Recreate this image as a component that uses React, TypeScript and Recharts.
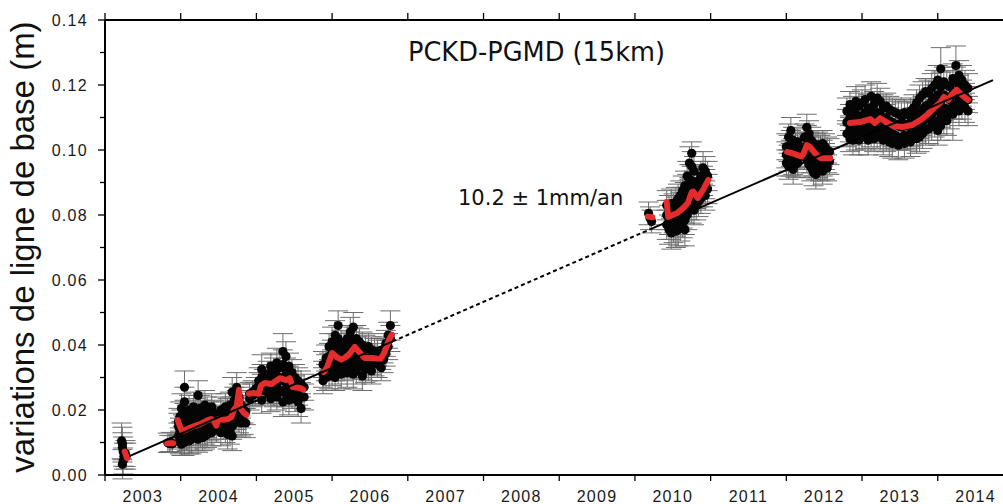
import React from 'react';
import { ComposedChart, Scatter, Line, XAxis, YAxis, ErrorBar } from 'recharts';

type Obs = [number, number, number];
type Mean = [number, number];

// ---- observations: [year, baseline variation (m), 1-sigma error (m)] ----
const obs2003a: Obs[] = [
  [2003.22, .0105, .0055], [2003.23, .0097, .005], [2003.23, .0085, .0045], [2003.24, .0072, .0045],
  [2003.25, .0058, .004], [2003.24, .0043, .004], [2003.23, .0033, .0045], [2003.27, .0066, .004], [2003.28, .0058, .004],
];
const obs2003b: Obs[] = [
  [2003.83, .0099, .003], [2003.85, .0097, .0025], [2003.87, .0101, .003], [2003.89, .0096, .0025],
];
const obs2004a: Obs[] = [
  [2003.97, .0165, .004], [2003.97, .0150, .004], [2003.97, .0120, .004],
  [2003.99, .0180, .0045], [2003.99, .0135, .004], [2003.99, .0105, .004],
  [2004.01, .0205, .0045], [2004.01, .0160, .004], [2004.01, .0125, .004], [2004.01, .0095, .0035],
  [2004.03, .0145, .004], [2004.03, .0110, .004],
  [2004.05, .0270, .005], [2004.05, .0225, .0045], [2004.05, .0190, .004], [2004.05, .0130, .004], [2004.05, .0100, .004],
  [2004.08, .0175, .004], [2004.08, .0150, .004], [2004.08, .0115, .004],
  [2004.11, .0200, .0045], [2004.11, .0160, .004], [2004.11, .0120, .004], [2004.11, .0105, .004],
  [2004.14, .0185, .004], [2004.14, .0140, .004], [2004.14, .0110, .0045],
  [2004.17, .0210, .0045], [2004.17, .0170, .004], [2004.17, .0130, .004],
  [2004.20, .0195, .004], [2004.20, .0150, .004], [2004.20, .0115, .004],
  [2004.23, .0245, .0045], [2004.23, .0180, .004], [2004.23, .0135, .004], [2004.23, .0110, .004],
  [2004.26, .0205, .004], [2004.26, .0160, .004], [2004.26, .0125, .004],
  [2004.29, .0190, .004], [2004.29, .0150, .004], [2004.29, .0115, .004],
  [2004.32, .0215, .0045], [2004.32, .0170, .004], [2004.32, .0135, .004], [2004.32, .0120, .004],
  [2004.35, .0200, .004], [2004.35, .0155, .004], [2004.35, .0125, .004],
  [2004.38, .0185, .004], [2004.38, .0145, .004],
  [2004.41, .0210, .004], [2004.41, .0165, .004], [2004.41, .0130, .004],
  [2004.44, .0190, .004], [2004.44, .0150, .004],
  [2004.47, .0175, .004], [2004.47, .0140, .004],
];
const obs2004b: Obs[] = [
  [2004.53, .0200, .004], [2004.53, .0165, .004], [2004.53, .0130, .004],
  [2004.56, .0185, .004], [2004.56, .0150, .004],
  [2004.59, .0210, .004], [2004.59, .0170, .004], [2004.59, .0140, .004],
  [2004.62, .0195, .004], [2004.62, .0160, .004], [2004.62, .0125, .0045],
  [2004.65, .0215, .004], [2004.65, .0175, .004], [2004.65, .0135, .004],
  [2004.68, .0255, .0045], [2004.68, .0200, .004], [2004.68, .0150, .004], [2004.68, .0120, .0045],
  [2004.71, .0230, .004], [2004.71, .0190, .004], [2004.71, .0160, .004],
  [2004.74, .0270, .0045], [2004.74, .0220, .004], [2004.74, .0180, .004],
  [2004.77, .0240, .004], [2004.77, .0205, .004], [2004.77, .0170, .004],
  [2004.80, .0215, .004], [2004.80, .0185, .004], [2004.80, .0160, .004],
  [2004.83, .0200, .004], [2004.83, .0165, .004],
  [2004.86, .0195, .004], [2004.86, .0160, .0045],
];
const obs2005a: Obs[] = [
  [2004.91, .0250, .0035], [2004.91, .0235, .0035],
  [2004.95, .0255, .0035], [2004.95, .0245, .0035],
  [2004.99, .0250, .0035], [2004.99, .0265, .0035],
  [2005.03, .0275, .004], [2005.03, .0290, .004],
  [2005.07, .0325, .0045], [2005.07, .0300, .004], [2005.07, .0270, .004], [2005.07, .0230, .004],
  [2005.10, .0285, .004], [2005.10, .0260, .004],
];
const obs2005b: Obs[] = [
  [2005.15, .0310, .004], [2005.15, .0280, .004], [2005.15, .0255, .004],
  [2005.19, .0335, .004], [2005.19, .0295, .004], [2005.19, .0265, .004], [2005.19, .0235, .004],
  [2005.23, .0320, .004], [2005.23, .0285, .004], [2005.23, .0250, .004],
  [2005.27, .0345, .0045], [2005.27, .0305, .004], [2005.27, .0270, .004], [2005.27, .0240, .004],
  [2005.31, .0330, .004], [2005.31, .0290, .004], [2005.31, .0255, .004],
  [2005.35, .0380, .0055], [2005.35, .0340, .0045], [2005.35, .0300, .004], [2005.35, .0260, .004], [2005.35, .0225, .0045],
  [2005.39, .0365, .0045], [2005.39, .0320, .004], [2005.39, .0285, .004], [2005.39, .0250, .004],
  [2005.43, .0335, .004], [2005.43, .0295, .004], [2005.43, .0260, .004], [2005.43, .0230, .0045],
  [2005.47, .0315, .004], [2005.47, .0280, .004], [2005.47, .0245, .004],
  [2005.51, .0300, .004], [2005.51, .0265, .004], [2005.51, .0235, .004],
  [2005.55, .0290, .004], [2005.55, .0255, .004], [2005.55, .0225, .0045],
  [2005.59, .0280, .004], [2005.59, .0245, .004], [2005.59, .0205, .0045],
  [2005.63, .0270, .004], [2005.63, .0240, .004],
];
const obs2006a: Obs[] = [
  [2005.88, .0340, .004], [2005.88, .0310, .004], [2005.88, .0290, .004],
  [2005.92, .0360, .004], [2005.92, .0330, .004], [2005.92, .0300, .004],
  [2005.96, .0395, .004], [2005.96, .0365, .004], [2005.96, .0335, .004], [2005.96, .0305, .004],
  [2006.00, .0410, .0045], [2006.00, .0375, .004], [2006.00, .0345, .004], [2006.00, .0315, .004],
  [2006.04, .0430, .0045], [2006.04, .0395, .004], [2006.04, .0360, .004], [2006.04, .0330, .004], [2006.04, .0300, .004],
  [2006.08, .0460, .0045], [2006.08, .0420, .004], [2006.08, .0380, .004], [2006.08, .0350, .004], [2006.08, .0320, .004],
  [2006.12, .0405, .004], [2006.12, .0370, .004], [2006.12, .0340, .004], [2006.12, .0310, .0045],
  [2006.16, .0395, .004], [2006.16, .0360, .004], [2006.16, .0330, .004],
  [2006.20, .0420, .004], [2006.20, .0380, .004], [2006.20, .0345, .004], [2006.20, .0315, .0045],
  [2006.24, .0440, .0045], [2006.24, .0400, .004], [2006.24, .0365, .004], [2006.24, .0335, .004],
  [2006.28, .0455, .0045], [2006.28, .0415, .004], [2006.28, .0375, .004], [2006.28, .0340, .004], [2006.28, .0310, .0045],
  [2006.32, .0420, .004], [2006.32, .0385, .004], [2006.32, .0350, .004], [2006.32, .0320, .004],
  [2006.36, .0410, .004], [2006.36, .0370, .004], [2006.36, .0340, .004],
  [2006.40, .0400, .004], [2006.40, .0365, .004], [2006.40, .0335, .004], [2006.40, .0305, .0045],
  [2006.44, .0390, .004], [2006.44, .0355, .004], [2006.44, .0325, .004],
  [2006.48, .0395, .004], [2006.48, .0360, .004], [2006.48, .0330, .004],
  [2006.52, .0385, .004], [2006.52, .0350, .004], [2006.52, .0320, .004],
  [2006.56, .0380, .004], [2006.56, .0345, .004],
  [2006.60, .0375, .004], [2006.60, .0340, .004],
];
const obs2006b: Obs[] = [
  [2006.65, .0365, .004], [2006.65, .0330, .004],
  [2006.68, .0385, .004], [2006.68, .0355, .004],
  [2006.71, .0405, .004], [2006.71, .0375, .004],
  [2006.74, .0430, .004], [2006.74, .0395, .004],
  [2006.77, .0460, .0045], [2006.77, .0420, .004],
];
const obs2010a: Obs[] = [
  [2010.18, .0805, .0035], [2010.20, .0790, .0035], [2010.22, .0780, .0035],
];
const obs2010b: Obs[] = [
  [2010.42, .0830, .0045], [2010.42, .0800, .0045], [2010.42, .0770, .0045],
  [2010.45, .0815, .0045], [2010.45, .0785, .0045], [2010.45, .0755, .0045],
  [2010.48, .0835, .0045], [2010.48, .0800, .0045], [2010.48, .0770, .0045], [2010.48, .0745, .005],
  [2010.51, .0820, .0045], [2010.51, .0790, .0045], [2010.51, .0760, .0045],
  [2010.54, .0840, .0045], [2010.54, .0810, .0045], [2010.54, .0780, .0045], [2010.54, .0750, .005],
  [2010.57, .0850, .0045], [2010.57, .0815, .0045], [2010.57, .0785, .0045], [2010.57, .0755, .005],
  [2010.60, .0860, .0045], [2010.60, .0825, .0045], [2010.60, .0795, .0045], [2010.60, .0765, .0045],
  [2010.63, .0875, .0045], [2010.63, .0840, .0045], [2010.63, .0805, .0045], [2010.63, .0775, .0045],
  [2010.66, .0890, .0045], [2010.66, .0855, .0045], [2010.66, .0820, .0045], [2010.66, .0785, .0045], [2010.66, .0755, .005],
  [2010.69, .0920, .0045], [2010.69, .0880, .0045], [2010.69, .0840, .0045], [2010.69, .0800, .0045],
  [2010.72, .0960, .005], [2010.72, .0910, .0045], [2010.72, .0870, .0045], [2010.72, .0830, .0045],
  [2010.75, .0990, .0035], [2010.75, .0950, .0045], [2010.75, .0905, .0045], [2010.75, .0860, .0045], [2010.75, .0820, .0045],
  [2010.78, .0935, .0045], [2010.78, .0890, .0045], [2010.78, .0850, .0045], [2010.78, .0815, .0045],
  [2010.81, .0900, .0045], [2010.81, .0865, .0045], [2010.81, .0830, .0045],
  [2010.84, .0905, .0045], [2010.84, .0870, .0045], [2010.84, .0840, .0045],
  [2010.87, .0920, .0045], [2010.87, .0885, .0045], [2010.87, .0850, .0045],
  [2010.90, .0945, .005], [2010.90, .0905, .0045], [2010.90, .0870, .0045],
  [2010.93, .0935, .0045], [2010.93, .0895, .0045], [2010.93, .0860, .0045],
  [2010.96, .0920, .0045], [2010.96, .0880, .0045],
];
const obs2012: Obs[] = [
  [2012.00, .1010, .004], [2012.00, .0985, .004], [2012.00, .0960, .004],
  [2012.03, .1040, .004], [2012.03, .1005, .004], [2012.03, .0975, .004], [2012.03, .0950, .004],
  [2012.06, .1060, .004], [2012.06, .1020, .004], [2012.06, .0990, .004], [2012.06, .0960, .004],
  [2012.09, .1030, .004], [2012.09, .0995, .004], [2012.09, .0965, .004], [2012.09, .0940, .0045],
  [2012.12, .1015, .004], [2012.12, .0985, .004], [2012.12, .0955, .004],
  [2012.15, .1025, .004], [2012.15, .0990, .004], [2012.15, .0960, .004],
  [2012.18, .1010, .004], [2012.18, .0980, .004],
  [2012.24, .1040, .004], [2012.24, .1010, .004], [2012.24, .0980, .004],
  [2012.27, .1070, .004], [2012.27, .1035, .004], [2012.27, .1000, .004], [2012.27, .0970, .004],
  [2012.30, .1050, .004], [2012.30, .1015, .004], [2012.30, .0985, .004], [2012.30, .0955, .004],
  [2012.33, .1030, .004], [2012.33, .1000, .004], [2012.33, .0970, .004], [2012.33, .0945, .004],
  [2012.36, .1020, .004], [2012.36, .0990, .004], [2012.36, .0960, .004], [2012.36, .0930, .004],
  [2012.39, .1010, .004], [2012.39, .0980, .004], [2012.39, .0950, .004], [2012.39, .0925, .0045],
  [2012.42, .1015, .004], [2012.42, .0985, .004], [2012.42, .0955, .004],
  [2012.45, .1005, .004], [2012.45, .0975, .004], [2012.45, .0945, .004],
  [2012.48, .1020, .004], [2012.48, .0990, .004], [2012.48, .0960, .004], [2012.48, .0935, .004],
  [2012.51, .1010, .004], [2012.51, .0980, .004], [2012.51, .0950, .004],
  [2012.54, .1000, .004], [2012.54, .0970, .004], [2012.54, .0945, .004],
  [2012.57, .0995, .004], [2012.57, .0965, .004],
];
const obs2013: Obs[] = [
  [2012.80, .1120, .004], [2012.80, .1085, .004], [2012.80, .1050, .004],
  [2012.84, .1140, .004], [2012.84, .1100, .004], [2012.84, .1065, .004], [2012.84, .1035, .004],
  [2012.88, .1125, .004], [2012.88, .1090, .004], [2012.88, .1055, .004], [2012.88, .1030, .0045],
  [2012.92, .1150, .0045], [2012.92, .1110, .004], [2012.92, .1075, .004], [2012.92, .1040, .004],
  [2012.96, .1135, .004], [2012.96, .1095, .004], [2012.96, .1060, .004], [2012.96, .1030, .0045],
  [2013.00, .1145, .004], [2013.00, .1105, .004], [2013.00, .1070, .004], [2013.00, .1040, .004],
  [2013.04, .1155, .0045], [2013.04, .1115, .004], [2013.04, .1080, .004], [2013.04, .1045, .004],
  [2013.08, .1130, .004], [2013.08, .1095, .004], [2013.08, .1060, .004], [2013.08, .1030, .0045],
  [2013.12, .1165, .0045], [2013.12, .1120, .004], [2013.12, .1085, .004], [2013.12, .1050, .004],
  [2013.16, .1140, .004], [2013.16, .1100, .004], [2013.16, .1065, .004], [2013.16, .1035, .004],
  [2013.20, .1160, .0045], [2013.20, .1115, .004], [2013.20, .1080, .004], [2013.20, .1045, .004],
  [2013.24, .1150, .004], [2013.24, .1110, .004], [2013.24, .1070, .004], [2013.24, .1040, .004],
  [2013.28, .1130, .004], [2013.28, .1095, .004], [2013.28, .1060, .004], [2013.28, .1030, .0045],
  [2013.32, .1135, .004], [2013.32, .1100, .004], [2013.32, .1065, .004], [2013.32, .1035, .004],
  [2013.36, .1125, .004], [2013.36, .1090, .004], [2013.36, .1055, .004], [2013.36, .1025, .0045],
  [2013.40, .1120, .004], [2013.40, .1085, .004], [2013.40, .1050, .004], [2013.40, .1020, .0045],
  [2013.44, .1115, .004], [2013.44, .1080, .004], [2013.44, .1045, .004],
  [2013.48, .1110, .004], [2013.48, .1075, .004], [2013.48, .1040, .004], [2013.48, .1015, .0045],
  [2013.52, .1105, .004], [2013.52, .1070, .004], [2013.52, .1040, .004],
  [2013.56, .1115, .004], [2013.56, .1080, .004], [2013.56, .1045, .004], [2013.56, .1020, .0045],
  [2013.60, .1110, .004], [2013.60, .1075, .004], [2013.60, .1040, .004],
  [2013.64, .1120, .004], [2013.64, .1085, .004], [2013.64, .1050, .004], [2013.64, .1025, .0045],
  [2013.68, .1130, .004], [2013.68, .1090, .004], [2013.68, .1055, .004],
  [2013.72, .1145, .004], [2013.72, .1105, .004], [2013.72, .1065, .004], [2013.72, .1035, .0045],
  [2013.76, .1160, .004], [2013.76, .1115, .004], [2013.76, .1075, .004], [2013.76, .1040, .0045],
  [2013.80, .1170, .004], [2013.80, .1125, .004], [2013.80, .1085, .004], [2013.80, .1050, .0045],
  [2013.84, .1180, .004], [2013.84, .1135, .004], [2013.84, .1095, .004], [2013.84, .1060, .0045],
  [2013.88, .1175, .004], [2013.88, .1140, .004], [2013.88, .1100, .004], [2013.88, .1065, .0045],
  [2013.92, .1190, .0045], [2013.92, .1150, .004], [2013.92, .1110, .004], [2013.92, .1075, .0045],
  [2013.96, .1200, .0045], [2013.96, .1160, .004], [2013.96, .1120, .004], [2013.96, .1085, .0045],
  [2014.00, .1215, .0045], [2014.00, .1170, .004], [2014.00, .1130, .004], [2014.00, .1090, .004], [2014.00, .1060, .0045],
  [2014.04, .1250, .0065], [2014.04, .1195, .0045], [2014.04, .1150, .004], [2014.04, .1110, .004], [2014.04, .1075, .0045],
  [2014.08, .1210, .0045], [2014.08, .1170, .004], [2014.08, .1130, .004], [2014.08, .1095, .0045],
  [2014.12, .1200, .0045], [2014.12, .1160, .004], [2014.12, .1125, .004], [2014.12, .1090, .0045],
  [2014.16, .1195, .0045], [2014.16, .1155, .004], [2014.16, .1110, .0045],
  [2014.20, .1220, .0045], [2014.20, .1175, .004], [2014.20, .1135, .004], [2014.20, .1110, .008],
  [2014.24, .1260, .006], [2014.24, .1210, .0045], [2014.24, .1170, .004], [2014.24, .1140, .0045],
  [2014.28, .1230, .0045], [2014.28, .1190, .004], [2014.28, .1150, .004], [2014.28, .1120, .0045],
  [2014.32, .1215, .0045], [2014.32, .1175, .004], [2014.32, .1140, .0045],
  [2014.36, .1200, .0045], [2014.36, .1165, .004], [2014.36, .1130, .0045],
  [2014.40, .1190, .0045], [2014.40, .1155, .004], [2014.40, .1120, .0045],
];

// ---- running mean (red), one array per continuous stretch ----
const mean2003a: Mean[] = [[2003.26, .0072], [2003.29, .0052]];
const mean2003b: Mean[] = [[2003.82, .0098], [2003.90, .0098]];
const mean2004: Mean[] = [
  [2003.96, .0169], [2003.99, .0150], [2004.02, .0135], [2004.06, .0138], [2004.10, .0143], [2004.15, .0148],
  [2004.20, .0152], [2004.25, .0156], [2004.30, .0162], [2004.35, .0168], [2004.40, .0172], [2004.44, .0166],
  [2004.47, .0152], [2004.50, .0172], [2004.56, .0170], [2004.62, .0172], [2004.67, .0178], [2004.70, .0200],
  [2004.74, .0212], [2004.77, .0262], [2004.79, .0205], [2004.83, .0192], [2004.87, .0185],
];
const mean2005: Mean[] = [
  [2004.90, .0250], [2004.97, .0252], [2005.03, .0250], [2005.06, .0275], [2005.11, .0283], [2005.20, .0280],
  [2005.31, .0298], [2005.40, .0292], [2005.44, .0298], [2005.48, .0271], [2005.58, .0268], [2005.62, .0262],
];
const mean2006a: Mean[] = [
  [2005.89, .0317], [2005.93, .0330], [2006.00, .0375], [2006.06, .0363], [2006.13, .0354], [2006.22, .0370],
  [2006.30, .0394], [2006.37, .0375], [2006.43, .0360], [2006.54, .0360], [2006.59, .0358],
];
const mean2006b: Mean[] = [[2006.64, .0358], [2006.68, .0372], [2006.72, .0395], [2006.76, .0420], [2006.79, .0432]];
const mean2010a: Mean[] = [[2010.17, .0795], [2010.23, .0793]];
const mean2010b: Mean[] = [
  [2010.42, .0840], [2010.44, .0794], [2010.56, .0806], [2010.64, .0822], [2010.70, .0837], [2010.75, .0870],
  [2010.77, .0872], [2010.83, .0852], [2010.90, .0877], [2010.97, .0908],
];
const mean2012: Mean[] = [
  [2012.01, .0994], [2012.08, .0990], [2012.14, .0985], [2012.20, .0980], [2012.23, .0990], [2012.27, .1015],
  [2012.31, .1010], [2012.38, .0990], [2012.45, .0975], [2012.52, .0975], [2012.58, .0975],
];
const mean2013: Mean[] = [
  [2012.84, .1083], [2012.97, .1086], [2013.11, .1095], [2013.17, .1083], [2013.24, .1098], [2013.32, .1086],
  [2013.41, .1074], [2013.54, .1071], [2013.66, .1077], [2013.77, .1092], [2013.86, .1108], [2013.95, .1129],
  [2014.03, .1145], [2014.08, .1163], [2014.14, .1154], [2014.19, .1172], [2014.25, .1185], [2014.32, .1169],
  [2014.40, .1154],
];

// ---- linear trend (10.2 mm/yr) ----
const trendSolidA: Mean[] = [[2003.33, .0059], [2006.80, .0411]];
const trendDotted: Mean[] = [[2006.80, .0411], [2010.20, .0756]];
const trendSolidB: Mean[] = [[2010.20, .0756], [2014.73, .1215]];

// ---- axes ----
const yTicks = [0, 0.01, 0.02, 0.03, 0.04, 0.05, 0.06, 0.07, 0.08, 0.09, 0.10, 0.11, 0.12, 0.13, 0.14];
const xTicks = [2003, 2003.5, 2004, 2004.5, 2005, 2005.5, 2006, 2006.5, 2007, 2007.5, 2008, 2008.5, 2009, 2009.5,
  2010, 2010.5, 2011, 2011.5, 2012, 2012.5, 2013, 2013.5, 2014, 2014.5];
const topTicks = [2003, 2004, 2005, 2006, 2007, 2008, 2009, 2010, 2011, 2012, 2013, 2014];
const xDomain: [number, number] = [2003, 2014.862];
const yDomain: [number, number] = [0, 0.14];

const TITLE = 'PCKD-PGMD (15km)';
const RATE = '10.2 ± 1mm/an';
const Y_LABEL = 'variations de ligne de base (m)';

const W = 1003;
const H = 504;
const PLOT_LEFT = 105;
const PLOT_TOP = 20;
const PLOT_BOTTOM = 475;

const obsData = [obs2003a, obs2003b, obs2004a, obs2004b, obs2005a, obs2005b, obs2006a, obs2006b, obs2010a, obs2010b, obs2012, obs2013]
  .flat()
  .map(([t, v, e]) => ({ t, v, e }));

const meanSegs = [mean2003a, mean2003b, mean2004, mean2005, mean2006a, mean2006b, mean2010a, mean2010b, mean2012, mean2013];
const meanData: { t: number; v: number | null }[] = [];
meanSegs.forEach((seg, i) => {
  if (i > 0) {
    const prev = meanSegs[i - 1];
    meanData.push({ t: (prev[prev.length - 1][0] + seg[0][0]) / 2, v: null });
  }
  seg.forEach(([t, v]) => meanData.push({ t, v }));
});
const toPts = (a: Mean[]) => a.map(([t, v]) => ({ t, v }));

const tickFont = { fontFamily: '"Liberation Sans", Arial, Helvetica, sans-serif', fontSize: 16, letterSpacing: 1.3, fill: '#1a1a1a' };

const LeftTick = (p: any) => {
  const val = p.payload.value as number;
  const major = Math.round(val * 100) % 2 === 0;
  return (
    <g>
      <line x1={PLOT_LEFT} x2={PLOT_LEFT - (major ? 7 : 5)} y1={p.y} y2={p.y} stroke="#000" strokeWidth={1.3} />
      {major && (
        <text x={PLOT_LEFT - 17} y={p.y} dy={5.5} textAnchor="end" {...tickFont}>
          {val.toFixed(2)}
        </text>
      )}
    </g>
  );
};

const BottomTick = (p: any) => {
  const val = p.payload.value as number;
  if (Number.isInteger(val)) {
    return <line x1={p.x} x2={p.x} y1={PLOT_BOTTOM} y2={PLOT_BOTTOM + 6} stroke="#000" strokeWidth={1.3} />;
  }
  return (
    <text x={p.x} y={PLOT_BOTTOM + 27} textAnchor="middle" {...tickFont}>
      {String(Math.floor(val))}
    </text>
  );
};

const TopTick = (p: any) => (
  <line x1={p.x} x2={p.x} y1={PLOT_TOP} y2={PLOT_TOP - 7} stroke="#000" strokeWidth={1.3} />
);

const Dot = (p: any) => <circle cx={p.cx} cy={p.cy} r={4.6} fill="#050505" />;

export default function App() {
  return (
    <div style={{ position: 'absolute', left: 0, top: 0, width: W, height: H, background: '#fff', overflow: 'hidden' }}>
      <ComposedChart width={W} height={H} margin={{ top: 0, right: 0, bottom: 0, left: 0 }}>
        <XAxis
          xAxisId="b"
          type="number"
          dataKey="t"
          domain={xDomain}
          allowDataOverflow
          ticks={xTicks}
          interval={0}
          tickLine={false}
          tick={BottomTick}
          height={29}
          axisLine={{ stroke: '#000', strokeWidth: 2 }}
        />
        <XAxis
          xAxisId="top"
          orientation="top"
          type="number"
          dataKey="t"
          domain={xDomain}
          allowDataOverflow
          ticks={topTicks}
          interval={0}
          tickLine={false}
          tick={TopTick}
          height={20}
          axisLine={{ stroke: '#000', strokeWidth: 2 }}
        />
        <YAxis
          type="number"
          dataKey="v"
          domain={yDomain}
          allowDataOverflow
          ticks={yTicks}
          interval={0}
          tickLine={false}
          tick={LeftTick}
          width={105}
          axisLine={{ stroke: '#000', strokeWidth: 2 }}
        />
        <Scatter xAxisId="b" data={obsData} dataKey="v" shape={Dot} isAnimationActive={false}>
          <ErrorBar dataKey="e" direction="y" width={10} stroke="#6e6e6e" strokeWidth={1} />
        </Scatter>
        <Line
          xAxisId="b"
          data={meanData}
          dataKey="v"
          type="linear"
          stroke="#e42c2c"
          strokeWidth={6}
          strokeLinecap="round"
          strokeLinejoin="round"
          dot={false}
          connectNulls={false}
          isAnimationActive={false}
          {...({ zIndex: 700 } as any)}
        />
        <Line xAxisId="b" data={toPts(trendSolidA)} dataKey="v" type="linear" stroke="#000" strokeWidth={2} dot={false} isAnimationActive={false} {...({ zIndex: 800 } as any)} />
        <Line xAxisId="b" data={toPts(trendDotted)} dataKey="v" type="linear" stroke="#000" strokeWidth={2} strokeDasharray="4 3" dot={false} isAnimationActive={false} {...({ zIndex: 800 } as any)} />
        <Line xAxisId="b" data={toPts(trendSolidB)} dataKey="v" type="linear" stroke="#000" strokeWidth={2} dot={false} isAnimationActive={false} {...({ zIndex: 800 } as any)} />
      </ComposedChart>
      <svg width={W} height={H} style={{ position: 'absolute', left: 0, top: 0, pointerEvents: 'none' }}>
        <text x={408} y={61} fontFamily='"DejaVu Sans", Verdana, sans-serif' fontSize={27} fill="#111" textLength={257} lengthAdjust="spacingAndGlyphs">
          {TITLE}
        </text>
        <text x={458} y={205} fontFamily='"DejaVu Sans", Verdana, sans-serif' fontSize={21} fill="#111">
          {RATE}
        </text>
        <text
          x={34}
          y={247}
          transform="rotate(-90 34 247)"
          textAnchor="middle"
          fontFamily='"Liberation Sans", Arial, Helvetica, sans-serif'
          fontSize={33}
          fill="#111"
        >
          {Y_LABEL}
        </text>
      </svg>
    </div>
  );
}
